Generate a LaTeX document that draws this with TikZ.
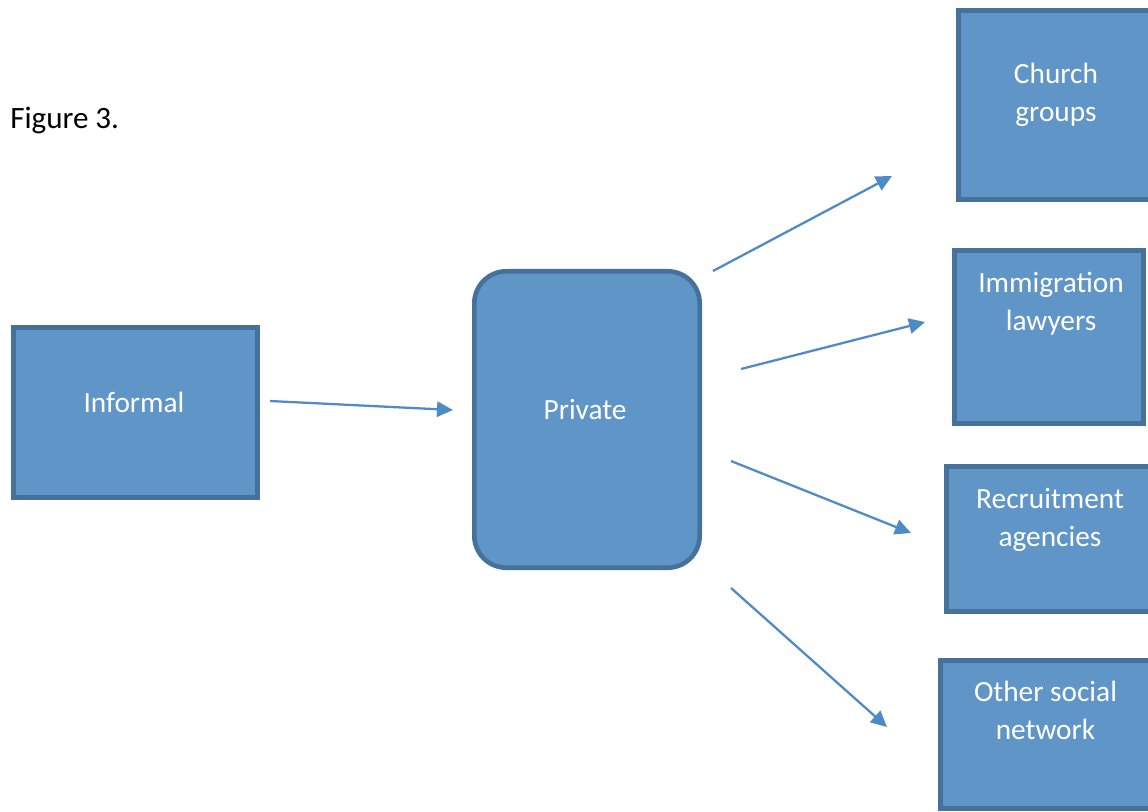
\documentclass[tikz,border=0pt]{standalone}
\usepackage{fontspec}
\setmainfont{Carlito}
\usetikzlibrary{arrows.meta}

\definecolor{boxfill}{RGB}{96,149,200}
\definecolor{boxline}{RGB}{70,113,155}
\definecolor{arrowblue}{RGB}{79,138,200}

\tikzset{
  box/.style={draw=boxline, fill=boxfill, line width=3.5pt,
    inner sep=0pt, outer sep=0pt},
  roundbox/.style={box, rounded corners=24pt},
  % anchor=base sits on the last line's baseline
  lbl/.style={text=white, font=\fontsize{22}{28.5}\selectfont,
    align=center, inner sep=0pt, anchor=base},
  link/.style={draw=arrowblue, line width=1.7pt,
    -{Triangle[length=12pt, width=11.5pt]}},
}

\begin{document}
\begin{tikzpicture}[x=0.75pt, y=-0.75pt]
  \clip (0,0) rectangle (1148,811);

  % caption
  \node[font=\fontsize{23.3}{28.5}\selectfont, inner sep=0pt, anchor=base west]
    (caption) at (10,128) {Figure 3.};

  % source boxes
  \node[box, minimum width=183.3pt, minimum height=127.8pt]
    (informal) at (135.5,412.5) {};
  \node[lbl] (informal-t) at (134,412) {Informal};

  \node[roundbox, minimum width=169pt, minimum height=222.3pt]
    (private) at (587,419.5) {};
  \node[lbl] (private-t) at (585,419) {Private};

  % target boxes
  \node[box, minimum width=146.5pt, minimum height=142pt]
    (church) at (1056,105) {};
  \node[lbl] (church-t) at (1056,121) {Church\\groups};

  \node[box, minimum width=142pt, minimum height=130pt]
    (immig) at (1049,337) {};
  \node[lbl] (immig-t) at (1051,330) {Immigration\\lawyers};

  \node[box, minimum width=155.5pt, minimum height=109pt]
    (recruit) at (1050,539) {};
  \node[lbl] (recruit-t) at (1050,546) {Recruitment\\agencies};

  \node[box, minimum width=157.8pt, minimum height=111.3pt]
    (other) at (1045.5,734.5) {};
  \node[lbl] (other-t) at (1045.5,739) {Other social\\network};

  % arrow end points
  \coordinate (inf-out) at (270,401);
  \coordinate (priv-in) at (453,410);
  \coordinate (p1) at (713,271);
  \coordinate (c-in) at (892,176);
  \coordinate (p2) at (741,369);
  \coordinate (i-in) at (925,322);
  \coordinate (p3) at (731,461);
  \coordinate (r-in) at (911,533);
  \coordinate (p4) at (731,588);
  \coordinate (o-in) at (887,727);

  \draw[link] (inf-out) -- (priv-in);
  \draw[link] (p1) -- (c-in);
  \draw[link] (p2) -- (i-in);
  \draw[link] (p3) -- (r-in);
  \draw[link] (p4) -- (o-in);
\end{tikzpicture}
\end{document}
